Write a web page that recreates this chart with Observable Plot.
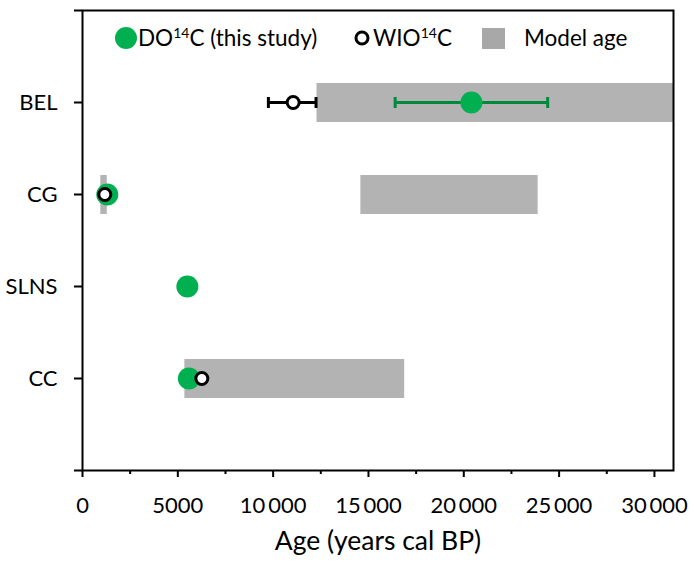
<!DOCTYPE html>
<html><head><meta charset="utf-8">
<script src="https://cdn.jsdelivr.net/npm/d3@7"></script>
<script src="https://cdn.jsdelivr.net/npm/@observablehq/plot@0.6"></script>
<style>
body{margin:0;background:#fff;}
#wrap{position:relative;width:694px;height:565px;font-family:Lato, sans-serif;}
#legend{position:absolute;left:0;top:0;pointer-events:none;}
</style></head><body>
<div id="wrap"><div id="chart"></div>
<svg id="legend" width="694" height="70" font-family="Lato, sans-serif" font-size="22.5" fill="#000">
 <circle cx="126" cy="38" r="11" fill="#00b050"/>
 <text x="138" y="46">DO<tspan dy="-8" font-size="14">14</tspan><tspan dy="8">C (this study)</tspan></text>
 <circle cx="362" cy="38" r="6" fill="#fff" stroke="#000" stroke-width="3"/>
 <text x="373" y="46">WIO<tspan dy="-8" font-size="14">14</tspan><tspan dy="8">C</tspan></text>
 <rect x="482" y="28" width="23" height="21" fill="#a8a8a8"/>
 <text x="524" y="46">Model age</text>
</svg></div>
<script>
// Sites (top to bottom)
const sites = ["BEL", "CG", "SLNS", "CC"];
// DO14C (this study)
const doAge = [20400, 1300, 5500, 5580];
const doErrSites = ["BEL"];
const doErrLo = [16400];
const doErrHi = [24400];
// WIO14C
const wioSites = ["BEL", "CG", "CC"];
const wioAge = [11050, 1170, 6260];
const wioErrSites = ["BEL"];
const wioErrLo = [9750];
const wioErrHi = [12250];
// Model age ranges
const modelSites = ["BEL", "CG", "CG", "CC"];
const modelLo = [12300, 960, 14600, 5370];
const modelHi = [31000, 1300, 23900, 16900];
// Axis ticks
const xTicks = [0, 5000, 10000, 15000, 20000, 25000, 30000];
const xMinor = [2500, 7500, 12500, 17500, 22500, 27500];
const yDomain = ["", ...sites, " "];

const doData = sites.map((s, i) => ({site: s, age: doAge[i]}));
const doErr = doErrSites.map((s, i) => ({site: s, lo: doErrLo[i], hi: doErrHi[i]}));
const wio = wioSites.map((s, i) => ({site: s, age: wioAge[i]}));
const wioErr = wioErrSites.map((s, i) => ({site: s, lo: wioErrLo[i], hi: wioErrHi[i]}));
const model = modelSites.map((s, i) => ({site: s, lo: modelLo[i], hi: modelHi[i]}));

const fmt = d => d >= 10000 ? String(Math.floor(d / 1000)) + "\u2009" + String(d % 1000).padStart(3, "0") : String(d);

// vertical cap symbol for error bars
const vbar = {draw(ctx, size) { const h = Math.sqrt(size / Math.PI); ctx.moveTo(0, -h); ctx.lineTo(0, h); }};

const chart = Plot.plot({
  width: 694, height: 565,
  marginLeft: 82, marginRight: 21, marginTop: 10, marginBottom: 95,
  style: {fontFamily: "Lato, sans-serif", fontSize: "22px", color: "#000", background: "#fff", overflow: "visible"},
  x: {domain: [0, 31000]},
  y: {type: "point", domain: yDomain, padding: 0},
  marks: [
    Plot.ruleY(model, {y: "site", x1: "lo", x2: "hi", stroke: "#b3b3b3", strokeWidth: 39}),
    Plot.ruleY(wioErr, {y: "site", x1: "lo", x2: "hi", stroke: "#000", strokeWidth: 3}),
    Plot.dot(wioErr, {x: "lo", y: "site", symbol: vbar, r: 5.5, fill: "none", stroke: "#000", strokeWidth: 3}),
    Plot.dot(wioErr, {x: "hi", y: "site", symbol: vbar, r: 5.5, fill: "none", stroke: "#000", strokeWidth: 3}),
    Plot.ruleY(doErr, {y: "site", x1: "lo", x2: "hi", stroke: "#00883c", strokeWidth: 3}),
    Plot.dot(doErr, {x: "lo", y: "site", symbol: vbar, r: 5.5, fill: "none", stroke: "#00883c", strokeWidth: 3}),
    Plot.dot(doErr, {x: "hi", y: "site", symbol: vbar, r: 5.5, fill: "none", stroke: "#00883c", strokeWidth: 3}),
    Plot.dot(doData, {x: "age", y: "site", r: 11, fill: "#00b050"}),
    Plot.dot(wio, {x: "age", y: "site", r: 6, fill: "#fff", stroke: "#000", strokeWidth: 3}),
    Plot.frame({stroke: "#000", strokeWidth: 2}),
    Plot.axisX({ticks: xTicks, tickFormat: fmt, tickSize: 7, tickPadding: 20, strokeWidth: 2, fontSize: 22, label: null}),
    Plot.axisX({ticks: xMinor, tickFormat: () => "", tickSize: 4, strokeWidth: 2, label: null}),
    Plot.axisY({ticks: yDomain, tickSize: 8, tickPadding: 17, strokeWidth: 2, fontSize: 22, label: null}),
    Plot.text(["Age (years cal BP)"], {text: d => d, frameAnchor: "bottom", dy: 79, fontSize: 26.5})
  ]
});
document.getElementById("chart").appendChild(chart);
</script>
</body></html>
